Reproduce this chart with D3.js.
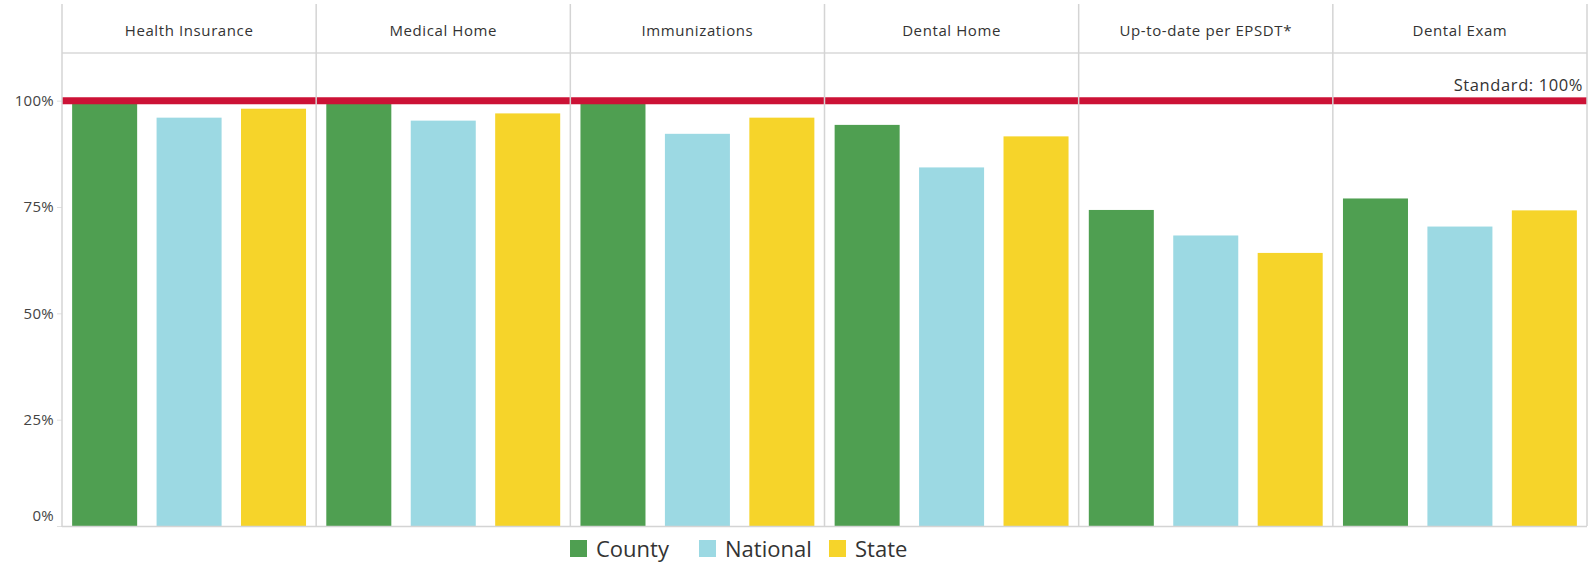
<!DOCTYPE html>
<html>
<head>
<meta charset="utf-8">
<script src="https://cdn.jsdelivr.net/npm/d3@7"></script>
<style>
  body { margin: 0; background: #fff; }
  text { font-family: "Open Sans", sans-serif; }
</style>
</head>
<body>
<div id="chart"></div>
<script>
const categories = ["Health Insurance", "Medical Home", "Immunizations", "Dental Home", "Up-to-date per EPSDT*", "Dental Exam"];
const series = ["County", "National", "State"];
const county = [1.00, 1.00, 1.00, 0.943, 0.743, 0.770];
const national = [0.960, 0.953, 0.922, 0.843, 0.683, 0.704];
const state = [0.981, 0.970, 0.960, 0.916, 0.642, 0.742];
const yTicks = [0, 0.25, 0.5, 0.75, 1.0];
const standard = 1.0;
const colors = ["#4f9f51", "#9cd9e3", "#f6d42a"];

const width = 1596;
const height = 564;
const plotLeft = 62, plotRight = 1587, plotTop = 4, headerBottom = 53, plotBottom = 526;

const svg = d3.select("#chart").append("svg")
    .attr("width", width)
    .attr("height", height);

const x = d3.scaleBand().domain(categories).range([plotLeft, plotRight]);
const xs = d3.scaleBand().domain(series).range([0, x.bandwidth()])
    .paddingInner(0.23).paddingOuter(0.12);
const y = d3.scaleLinear().domain([0, 1.112]).range([plotBottom, headerBottom]);
const color = d3.scaleOrdinal().domain(series).range(colors);

const rows = [];
categories.forEach(function(c, i) {
    rows.push({cat: c, s: "County", v: county[i]});
    rows.push({cat: c, s: "National", v: national[i]});
    rows.push({cat: c, s: "State", v: state[i]});
});

// bars
svg.append("g").selectAll("rect")
    .data(rows)
    .enter().append("rect")
    .attr("x", d => x(d.cat) + xs(d.s))
    .attr("y", d => y(d.v))
    .attr("width", xs.bandwidth())
    .attr("height", d => y(0) - y(d.v))
    .attr("fill", d => color(d.s));

// standard line
svg.append("line")
    .attr("x1", plotLeft).attr("x2", plotRight)
    .attr("y1", y(standard)).attr("y2", y(standard))
    .attr("stroke", "#cc1236")
    .attr("stroke-width", 7);

// header row
svg.append("line")
    .attr("x1", plotLeft).attr("x2", plotRight)
    .attr("y1", headerBottom).attr("y2", headerBottom)
    .attr("stroke", "#d9d9d9").attr("stroke-width", 1.5);

svg.append("g").selectAll("text")
    .data(categories)
    .enter().append("text")
    .attr("x", d => x(d) + x.bandwidth() / 2)
    .attr("y", 32)
    .attr("text-anchor", "middle")
    .attr("dominant-baseline", "middle")
    .attr("font-size", 15)
    .attr("letter-spacing", 0.6)
    .attr("fill", "#333")
    .text(d => d);

// panel dividers
svg.append("g").selectAll("line")
    .data(categories.slice(1).concat(["end"]))
    .enter().append("line")
    .attr("x1", d => d === "end" ? plotRight : x(d))
    .attr("x2", d => d === "end" ? plotRight : x(d))
    .attr("y1", plotTop).attr("y2", plotBottom)
    .attr("stroke", "#d4d4d4").attr("stroke-width", 1.5);

// y axis
const yAxis = d3.axisLeft(y)
    .tickValues(yTicks)
    .tickFormat(d3.format(".0%"))
    .tickSize(5)
    .tickPadding(3);

const ya = svg.append("g")
    .attr("transform", "translate(" + plotLeft + ",0)")
    .call(yAxis);
ya.select(".domain").remove();
ya.selectAll(".tick line").attr("stroke", "#e0e0e0");
ya.selectAll(".tick text")
    .attr("font-size", 15)
    .attr("letter-spacing", 0.3)
    .attr("fill", "#444")
    .style("font-family", "Open Sans, sans-serif");
// 0% label sits just above the baseline
ya.selectAll(".tick text").filter(d => d === 0).attr("dy", "-0.35em");

svg.append("line")
    .attr("x1", plotLeft).attr("x2", plotLeft)
    .attr("y1", plotTop).attr("y2", plotBottom + 1)
    .attr("stroke", "#d4d4d4").attr("stroke-width", 1.5);

svg.append("line")
    .attr("x1", plotLeft).attr("x2", plotRight)
    .attr("y1", plotBottom + 0.5).attr("y2", plotBottom + 0.5)
    .attr("stroke", "#d4d4d4").attr("stroke-width", 1.5);

// standard label
const lbl = svg.append("g");
lbl.append("rect")
    .attr("x", 1450).attr("y", 75)
    .attr("width", plotRight - 1450 - 1).attr("height", y(standard) - 3.5 - 75)
    .attr("fill", "#fff");
lbl.append("text")
    .attr("x", plotRight - 4)
    .attr("y", 87)
    .attr("text-anchor", "end")
    .attr("dominant-baseline", "middle")
    .attr("font-size", 16.5)
    .attr("letter-spacing", 0.6)
    .attr("fill", "#333")
    .text("Standard: " + d3.format(".0%")(standard));

// legend
const legendX = [570, 699, 829];
const lg = svg.append("g").selectAll("g")
    .data(series)
    .enter().append("g")
    .attr("transform", (d, i) => "translate(" + legendX[i] + ",540)");
lg.append("rect")
    .attr("width", 17).attr("height", 17)
    .attr("fill", d => color(d));
lg.append("text")
    .attr("x", 26)
    .attr("y", 11)
    .attr("dominant-baseline", "middle")
    .attr("font-size", 22)
    .attr("fill", "#333")
    .text(d => d);
</script>
</body>
</html>
